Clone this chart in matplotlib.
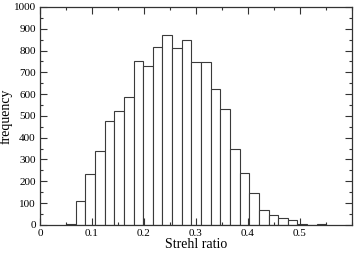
import numpy as np
import matplotlib
matplotlib.use("Agg")
import matplotlib.pyplot as plt
from matplotlib.ticker import MultipleLocator

plt.rcParams['font.family'] = ['Liberation Serif', 'DejaVu Serif']

# histogram bins (left edges from 0.050 to 0.551, 27 bins)
bin_start = 0.050
bin_end = 0.551
counts = [6, 110, 232, 337, 476, 523, 589, 750, 731, 816, 872, 812, 848,
          746, 746, 623, 530, 347, 238, 144, 68, 46, 31, 23, 5, 0, 3]
xticks = [0, 0.1, 0.2, 0.3, 0.4, 0.5]
xtick_labels = ["0", "0.1", "0.2", "0.3", "0.4", "0.5"]
yticks = list(range(0, 1001, 100))

edges = np.linspace(bin_start, bin_end, len(counts) + 1)

fig = plt.figure(figsize=(3.54, 2.57), dpi=100)
ax = fig.add_axes([0.113, 0.125, 0.881, 0.848])

ax.bar(edges[:-1], counts, width=np.diff(edges), align='edge',
       facecolor='white', edgecolor='#3a3a3a', linewidth=0.8)

ax.set_xlim(0, 0.6)
ax.set_ylim(0, 1000)
ax.set_xticks(xticks)
ax.set_xticklabels(xtick_labels)
ax.set_yticks(yticks)
ax.xaxis.set_minor_locator(MultipleLocator(0.05))
ax.yaxis.set_minor_locator(MultipleLocator(50))
ax.tick_params(which='both', direction='in', top=True, right=True,
               labelsize=8, color='#333333', width=0.8, pad=3)
ax.tick_params(which='major', length=5)
ax.tick_params(which='minor', length=2.5)
for s in ax.spines.values():
    s.set_color('#333333')
    s.set_linewidth(0.9)

ax.set_xlabel('Strehl ratio', fontsize=10, labelpad=0)
ax.set_ylabel('frequency', fontsize=10, labelpad=1)

fig.savefig('out.png', dpi=100)
